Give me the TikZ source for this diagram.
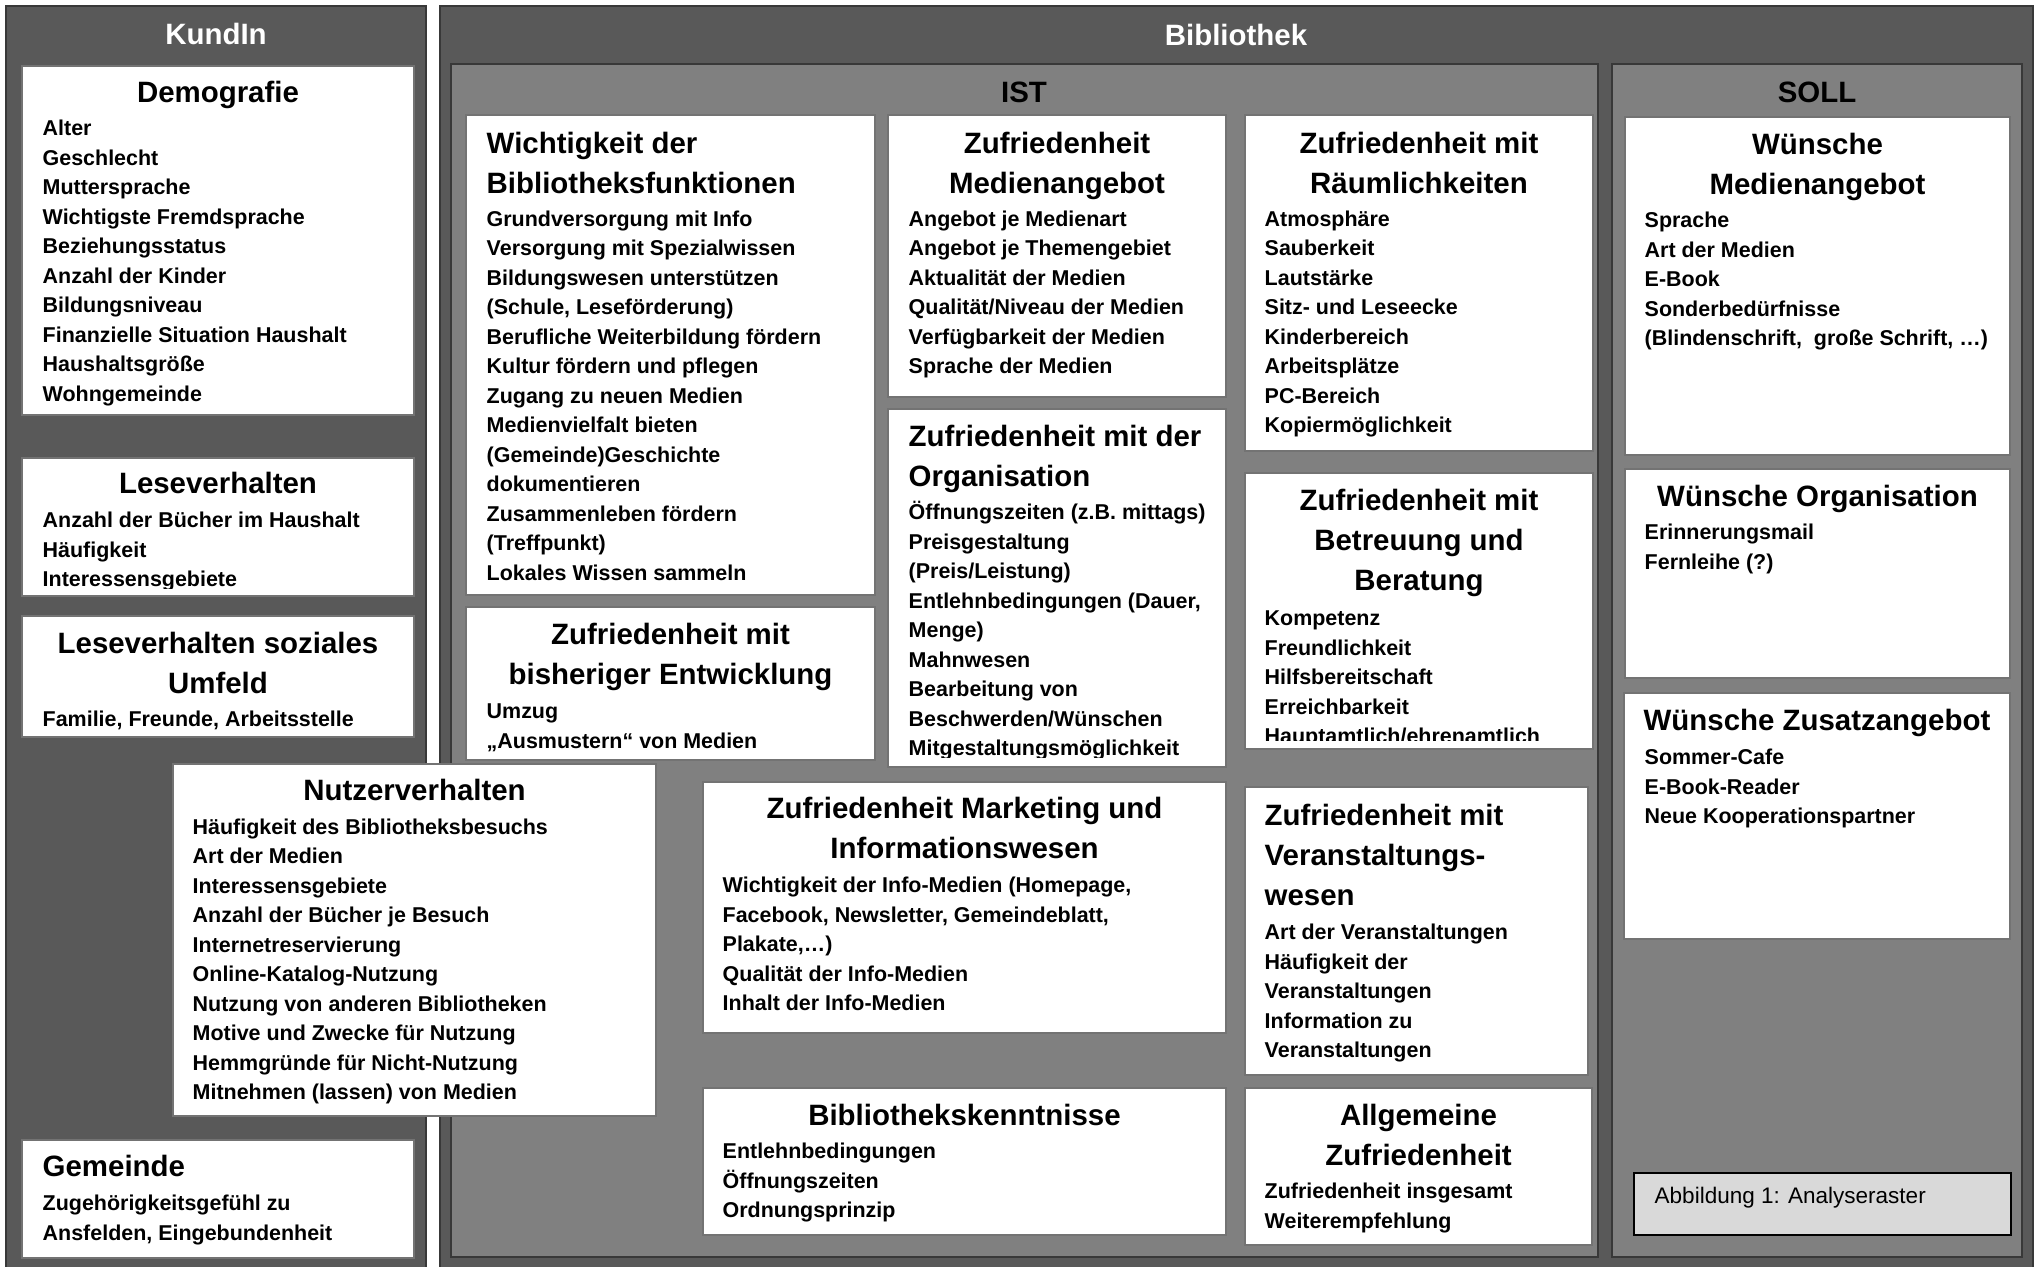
\documentclass[tikz,border=0pt]{standalone}
\usepackage{fontspec}
\setmainfont{Liberation Sans}
\usetikzlibrary{positioning, fit}

\definecolor{darkfill}{gray}{0.35}
\definecolor{midfill}{gray}{0.5}
\definecolor{rimgray}{gray}{0.22}
\definecolor{boxgray}{gray}{0.45}
\definecolor{capfill}{gray}{0.85}

\begin{document}
\begin{tikzpicture}[
  x=0.01cm, y=-0.01cm,
  panel/.style = {draw=rimgray, line width=0.5pt, fill=darkfill, inner sep=0pt},
  subpanel/.style = {draw=rimgray, line width=0.5pt, fill=midfill, inner sep=0pt},
  box/.style = {draw=boxgray, line width=0.35pt, fill=white, inner sep=0pt},
  head/.style = {font=\fontsize{8.37}{10}\selectfont\bfseries, text=white, inner sep=0pt},
  subhead/.style = {font=\fontsize{8.37}{10}\selectfont\bfseries, inner sep=0pt},
  title/.style = {font=\fontsize{8.37}{11.38}\selectfont\bfseries, align=center, anchor=north,
    yshift=7.4pt, inner sep=0pt},
  ltitle/.style = {title, align=left, anchor=north west},
  items/.style = {font=\fontsize{6.1}{8.39}\selectfont\bfseries, align=left, anchor=north west,
    yshift=5.45pt, inner sep=0pt}
]
\useasboundingbox (0,0) rectangle (2042,1266);

% Panels
\node[panel, fit={(6,6) (426,1275)}] (kunde) {};
\node[panel, fit={(440,6) (2033,1275)}] (bib) {};
\node[subpanel, fit={(451,64) (1598,1257)}] (ist) {};
\node[subpanel, fit={(1612,64) (2022,1257)}] (soll) {};
\node[head] (kundeH) at (216,34) {KundIn};
\node[head] (bibH) at (1236,35) {Bibliothek};
\node[subhead] (istH) at (1024,92) {IST};
\node[subhead] (sollH) at (1817,92) {SOLL};

% KundIn
\node[box, fit={(22,66) (414,415)}] (demo) {};
\node[title] (demoT) at (218,100) {\strut Demografie};
\node[items] (demoI) at (42,133.5) {\strut Alter\\Geschlecht\\Muttersprache\\Wichtigste Fremdsprache\\Beziehungsstatus\\Anzahl der Kinder\\Bildungsniveau\\Finanzielle Situation Haushalt\\Haushaltsgröße\\Wohngemeinde};

\node[box, fit={(22,458) (414,596)}] (lese) {};
\node[title] (leseT) at (218,491) {\strut Leseverhalten};
\begin{scope}
\clip (22,458) rectangle (414,588);
\node[items] (leseI) at (42,525.5) {\strut Anzahl der Bücher im Haushalt\\Häufigkeit\\Interessensgebiete};
\end{scope}

\node[box, fit={(22,616) (414,737)}] (umfeld) {};
\node[title] (umfeldT) at (218,650.5) {\strut Leseverhalten soziales\\Umfeld};
\node[items] (umfeldI) at (42,724) {\strut Familie, Freunde, Arbeitsstelle};

\node[box, fit={(173,764) (656,1116)}] (nutzer) {};
\node[title] (nutzerT) at (414.5,798) {\strut Nutzerverhalten};
\node[items] (nutzerI) at (192,832) {\strut Häufigkeit des Bibliotheksbesuchs\\Art der Medien\\Interessensgebiete\\Anzahl der Bücher je Besuch\\Internetreservierung\\Online-Katalog-Nutzung\\Nutzung von anderen Bibliotheken\\Motive und Zwecke für Nutzung\\Hemmgründe für Nicht-Nutzung\\Mitnehmen (lassen) von Medien};

\node[box, fit={(22,1140) (414,1258)}] (gemeinde) {};
\node[ltitle] (gemeindeT) at (42,1174) {\strut Gemeinde};
\node[items] (gemeindeI) at (42,1208.5) {\strut Zugehörigkeitsgefühl zu\\Ansfelden, Eingebundenheit};

% IST
\node[box, fit={(466,115) (875,595)}] (funk) {};
\node[ltitle] (funkT) at (486,151) {\strut Wichtigkeit der\\Bibliotheksfunktionen};
\node[items] (funkI) at (486,224) {\strut Grundversorgung mit Info\\Versorgung mit Spezialwissen\\Bildungswesen unterstützen\\(Schule, Leseförderung)\\Berufliche Weiterbildung fördern\\Kultur fördern und pflegen\\Zugang zu neuen Medien\\Medienvielfalt bieten\\(Gemeinde)Geschichte\\dokumentieren\\Zusammenleben fördern\\(Treffpunkt)\\Lokales Wissen sammeln};

\node[box, fit={(466,607) (875,760)}] (entw) {};
\node[title] (entwT) at (670.5,642) {\strut Zufriedenheit mit\\bisheriger Entwicklung};
\node[items] (entwI) at (486,716.5) {\strut Umzug\\„Ausmustern“ von Medien};

\node[box, fit={(888,115) (1226,397)}] (medien) {};
\node[title] (medienT) at (1057,151) {\strut Zufriedenheit\\Medienangebot};
\node[items] (medienI) at (908,224) {\strut Angebot je Medienart\\Angebot je Themengebiet\\Aktualität der Medien\\Qualität/Niveau der Medien\\Verfügbarkeit der Medien\\Sprache der Medien};

\node[box, fit={(888,409) (1226,767)}] (orga) {};
\node[ltitle] (orgaT) at (908,444) {\strut Zufriedenheit mit der\\Organisation};
\begin{scope}
\clip (888,409) rectangle (1226,757);
\node[items] (orgaI) at (908,517.5) {\strut Öffnungszeiten (z.B. mittags)\\Preisgestaltung\\(Preis/Leistung)\\Entlehnbedingungen (Dauer,\\Menge)\\Mahnwesen\\Bearbeitung von\\Beschwerden/Wünschen\\Mitgestaltungsmöglichkeit};
\end{scope}

\node[box, fit={(1245,115) (1593,451)}] (raum) {};
\node[title] (raumT) at (1419,151) {\strut Zufriedenheit mit\\Räumlichkeiten};
\node[items] (raumI) at (1264,224) {\strut Atmosphäre\\Sauberkeit\\Lautstärke\\Sitz- und Leseecke\\Kinderbereich\\Arbeitsplätze\\PC-Bereich\\Kopiermöglichkeit};

\node[box, fit={(1245,473) (1593,749)}] (betreu) {};
\node[title] (betreuT) at (1419,508) {\strut Zufriedenheit mit\\Betreuung und\\Beratung};
\begin{scope}
\clip (1245,473) rectangle (1593,740);
\node[items] (betreuI) at (1264,623.5) {\strut Kompetenz\\Freundlichkeit\\Hilfsbereitschaft\\Erreichbarkeit\\Hauptamtlich/ehrenamtlich};
\end{scope}

\node[box, fit={(703,782) (1226,1033)}] (market) {};
\node[title] (marketT) at (964.5,816) {\strut Zufriedenheit Marketing und\\Informationswesen};
\node[items] (marketI) at (722,890.5) {\strut Wichtigkeit der Info-Medien (Homepage,\\Facebook, Newsletter, Gemeindeblatt,\\Plakate,…)\\Qualität der Info-Medien\\Inhalt der Info-Medien};

\node[box, fit={(1245,787) (1588,1075)}] (veran) {};
\node[ltitle] (veranT) at (1264,823) {\strut Zufriedenheit mit\\Veranstaltungs-\\wesen};
\node[items] (veranI) at (1264,937.5) {\strut Art der Veranstaltungen\\Häufigkeit der\\Veranstaltungen\\Information zu\\Veranstaltungen};

\node[box, fit={(703,1088) (1226,1235)}] (kennt) {};
\node[title] (kenntT) at (964.5,1123) {\strut Bibliothekskenntnisse};
\node[items] (kenntI) at (722,1156.5) {\strut Entlehnbedingungen\\Öffnungszeiten\\Ordnungsprinzip};

\node[box, fit={(1245,1088) (1592,1245)}] (allg) {};
\node[title] (allgT) at (1418.5,1123) {\strut Allgemeine\\Zufriedenheit};
\node[items] (allgI) at (1264,1196.5) {\strut Zufriedenheit insgesamt\\Weiterempfehlung};

% SOLL
\node[box, fit={(1625,117) (2010,455)}] (wmedien) {};
\node[title] (wmedienT) at (1817.5,152) {\strut Wünsche\\Medienangebot};
\node[items] (wmedienI) at (1644,225.5) {\strut Sprache\\Art der Medien\\E-Book\\Sonderbedürfnisse\\(Blindenschrift,~~große Schrift, …)};

\node[box, fit={(1625,469) (2010,678)}] (worga) {};
\node[title] (worgaT) at (1817.5,504) {\strut Wünsche Organisation};
\node[items] (worgaI) at (1644,537.5) {\strut Erinnerungsmail\\Fernleihe (?)};

\node[box, fit={(1624,693) (2010,939)}] (wzusatz) {};
\node[title] (wzusatzT) at (1817,728) {\strut Wünsche Zusatzangebot};
\node[items] (wzusatzI) at (1644,762.5) {\strut Sommer-Cafe\\E-Book-Reader\\Neue Kooperationspartner};

\node[box, draw=black, line width=0.4pt, fill=capfill, fit={(1634,1173) (2011,1235)}] (cap) {};
\node[font=\fontsize{6.4}{9}\selectfont, anchor=base west, inner sep=0pt] (capT) at (1654,1203.5) {Abbildung 1: Analyseraster};

\end{tikzpicture}
\end{document}
